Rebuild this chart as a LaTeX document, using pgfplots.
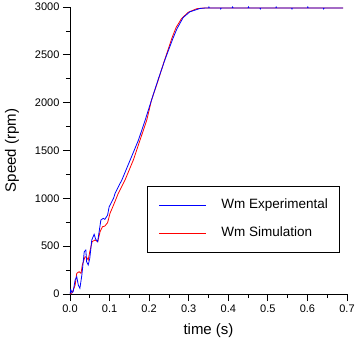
\documentclass[border=0pt]{standalone}
\usepackage{pgfplots}
\pgfplotsset{compat=1.18}
\usepackage{fontspec}
\setmainfont{Liberation Sans}
\definecolor{expblue}{RGB}{0,0,255}
\definecolor{simred}{RGB}{255,0,0}
\begin{document}
\begin{tikzpicture}
\begin{axis}[
 scale only axis, width=277pt, height=287pt,
 xmin=0, xmax=0.7, ymin=0, ymax=3000,
 axis x line*=bottom, axis y line*=left,
 tick align=outside,
 xtick={0,0.1,0.2,0.3,0.4,0.5,0.6,0.7}, minor x tick num=1,
 ytick={0,500,1000,1500,2000,2500,3000}, minor y tick num=1,
 major tick length=7pt, minor tick length=4pt,
 tick style={black, line width=0.8pt},
 axis line style={line width=0.8pt},
 xticklabel style={/pgf/number format/.cd, fixed, fixed zerofill, precision=1},
 yticklabel style={/pgf/number format/1000 sep={}},
 /pgf/number format/assume math mode=true,
 ticklabel style={font=\fontsize{11}{13}\selectfont},
 xlabel={time (s)}, ylabel={Speed (rpm)},
 label style={font=\fontsize{15}{18}\selectfont},
 x label style={at={(axis description cs:0.5,-0.129)}, anchor=center},
 y label style={at={(axis description cs:-0.209,0.5)}, anchor=center},
 legend style={at={(axis description cs:0.279,0.376)}, anchor=north west,
   draw=black, line width=0.8pt, inner xsep=11pt, inner ysep=12.5pt,
   column sep=15pt, row sep=15pt,
   nodes={inner sep=0pt, text height=10pt, text depth=3pt},
   font=\fontsize{13.5}{16}\selectfont},
 legend cell align=left,
 legend image code/.code={\draw[#1, line width=0.8pt] (0pt,0pt) -- (47pt,0pt);},
]
\addlegendimage{expblue}
\addlegendentry{Wm Experimental}
\addlegendimage{simred}
\addlegendentry{Wm Simulation}
\addplot[simred, line width=0.8pt, forget plot] coordinates {
(0,0) (0.005,10) (0.010,60) (0.013,94) (0.017,216) (0.023,233) (0.028,216)
(0.031,303) (0.038,390) (0.042,383) (0.046,355) (0.050,442) (0.056,547)
(0.063,564) (0.070,547) (0.076,651) (0.082,703) (0.088,710) (0.095,745)
(0.101,843) (0.107,900) (0.113,960) (0.122,1052) (0.139,1191) (0.160,1400)
(0.177,1609) (0.194,1818) (0.206,2027) (0.223,2236) (0.239,2445) (0.248,2555)
(0.258,2680) (0.268,2785) (0.282,2880) (0.299,2945) (0.320,2982) (0.340,2990) (0.69,2990)
};
\addplot[expblue, line width=0.8pt, forget plot] coordinates {
(0,0) (0.002,45) (0.005,15) (0.008,25) (0.013,146) (0.017,181) (0.021,94)
(0.025,59) (0.030,199) (0.036,442) (0.040,460) (0.042,338) (0.046,303)
(0.050,373) (0.055,564) (0.061,624) (0.065,572) (0.070,547) (0.073,634)
(0.078,773) (0.084,791) (0.088,780) (0.095,825) (0.099,912) (0.105,960)
(0.110,1000) (0.114,1052) (0.122,1120) (0.131,1191) (0.152,1400) (0.173,1609)
(0.190,1818) (0.206,2027) (0.223,2245) (0.240,2450) (0.250,2560) (0.260,2670)
(0.270,2770) (0.286,2890) (0.303,2950) (0.329,2985) (0.345,2990)
(0.350,2990) (0.351,3000) (0.352,2990) (0.380,2990) (0.381,2980) (0.382,2990)
(0.410,2990) (0.411,3000) (0.412,2990) (0.450,2990) (0.451,3000) (0.452,2990)
(0.480,2990) (0.481,2980) (0.482,2990) (0.520,2990) (0.521,3000) (0.522,2990)
(0.560,2990) (0.561,2980) (0.562,2990) (0.600,2990) (0.601,3000) (0.602,2990)
(0.640,2990) (0.641,2980) (0.642,2990) (0.690,2990)
};
\coordinate (bl) at (rel axis cs:0,0);
\end{axis}
\pgfresetboundingbox
\path[use as bounding box] ([shift={(-70pt,-48pt)}]bl) rectangle ([shift={(285pt,294pt)}]bl);
\end{tikzpicture}
\end{document}
